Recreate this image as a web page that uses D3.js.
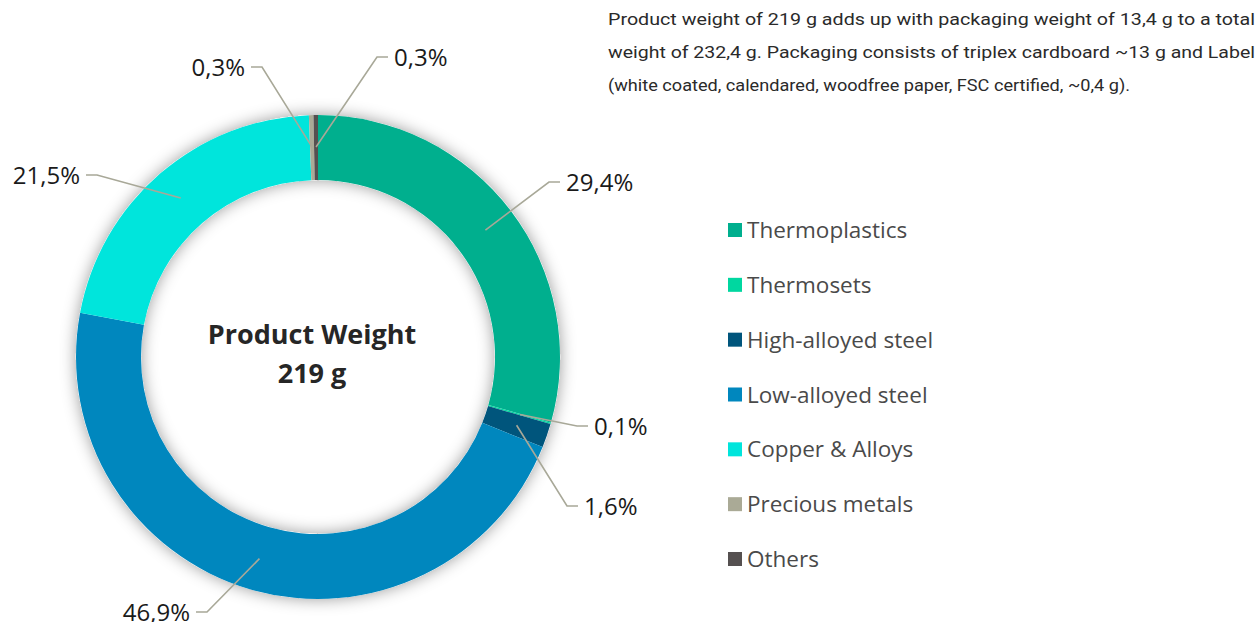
<!DOCTYPE html>
<html>
<head>
<meta charset="utf-8">
<script src="https://cdn.jsdelivr.net/npm/d3@7"></script>
<style>
  html, body { margin: 0; padding: 0; background: #fff; }
  svg { display: block; }
</style>
</head>
<body>
<div id="chart"></div>
<script>
// Material breakdown of product weight (clockwise from 12 o'clock)
const categories = ['Thermoplastics', 'Thermosets', 'High-alloyed steel', 'Low-alloyed steel',
                    'Copper & Alloys', 'Precious metals', 'Others'];
const shares = [29.4, 0.1, 1.6, 46.9, 21.5, 0.3, 0.3];
const shareLabels = ['29,4%', '0,1%', '1,6%', '46,9%', '21,5%', '0,3%', '0,3%'];
const colors = ['#00af8e', '#00d7a0', '#00557c', '#0087be', '#00e5dc', '#aaaa96', '#555050'];

const centerTitle = ['Product Weight', '219 g'];
const noteLines = [
    'Product weight of 219 g adds up with packaging weight of 13,4 g to a total',
    'weight of 232,4 g. Packaging consists of triplex cardboard ~13 g  and Label',
    '(white coated, calendared, woodfree  paper, FSC certified, ~0,4 g).'
];

// where each leader line bends, relative to the donut center
const labelElbows = [[231, -175], [259, 69], [249, 149], [-111, 255], [-221, -182], [-56, -290], [59, -300]];

const width = 1257, height = 622;
const cx = 318, cy = 357;
const outerR = 242, innerR = 177;

const svg = d3.select('#chart').append('svg')
    .attr('width', width)
    .attr('height', height);

const defs = svg.append('defs');
const glow = defs.append('filter')
    .attr('id', 'glow')
    .attr('x', '-30%').attr('y', '-30%')
    .attr('width', '160%').attr('height', '160%');
glow.append('feDropShadow')
    .attr('dx', 0).attr('dy', 0)
    .attr('stdDeviation', 8)
    .attr('flood-color', '#000')
    .attr('flood-opacity', 0.4);

const g = svg.append('g').attr('transform', `translate(${cx},${cy})`);

const pie = d3.pie().sort(null).value(d => d)(shares);
const arc = d3.arc().innerRadius(innerR).outerRadius(outerR);
const midArc = d3.arc().innerRadius(210).outerRadius(210);

// shadow ring underneath
g.append('path')
    .attr('d', d3.arc().innerRadius(innerR).outerRadius(outerR).startAngle(0).endAngle(2 * Math.PI)())
    .attr('fill', '#fff')
    .attr('filter', 'url(#glow)');

g.selectAll('path.slice')
    .data(pie)
    .enter().append('path')
    .attr('class', 'slice')
    .attr('d', arc)
    .attr('fill', (d, i) => colors[i]);

// leader lines + labels
const labels = g.append('g').attr('class', 'labels');
pie.forEach((d, i) => {
    const start = midArc.centroid(d);
    const elbow = labelElbows[i];
    const right = elbow[0] > 0;
    const endX = elbow[0] + (right ? 11 : -11);
    labels.append('polyline')
        .attr('points', [start, elbow, [endX, elbow[1]]].map(p => p.join(',')).join(' '))
        .attr('fill', 'none')
        .attr('stroke', '#a8a898')
        .attr('stroke-width', 1.6);
    labels.append('text')
        .attr('x', endX + (right ? 6 : -6))
        .attr('y', elbow[1])
        .attr('dy', '0.36em')
        .attr('text-anchor', right ? 'start' : 'end')
        .attr('font-family', 'Open Sans, sans-serif')
        .attr('font-size', 24)
        .attr('fill', '#1a1a1a')
        .text(shareLabels[i]);
});

// center caption
g.append('g').selectAll('text')
    .data(centerTitle)
    .enter().append('text')
    .attr('x', -6)
    .attr('y', (d, i) => -13 + i * 39)
    .attr('text-anchor', 'middle')
    .attr('font-family', 'Open Sans, sans-serif')
    .attr('font-weight', 700)
    .attr('font-size', 27)
    .attr('fill', '#262626')
    .text(d => d);

// legend
const legendY = d3.scalePoint().domain(categories).range([230, 559]);
const legend = svg.append('g').attr('class', 'legend');
const item = legend.selectAll('g')
    .data(categories)
    .enter().append('g')
    .attr('transform', d => `translate(728,${legendY(d)})`);
item.append('rect')
    .attr('x', 0).attr('y', -7)
    .attr('width', 14).attr('height', 14)
    .attr('fill', (d, i) => colors[i]);
item.append('text')
    .attr('x', 19)
    .attr('dy', '0.36em')
    .attr('font-family', 'Open Sans, sans-serif')
    .attr('font-size', 22.5)
    .attr('fill', '#4a4a4a')
    .text(d => d);

// note text, top right
const noteWidths = [647, 647, 522];
svg.append('g').selectAll('text')
    .data(noteLines)
    .enter().append('text')
    .attr('x', 608)
    .attr('y', (d, i) => 25 + i * 33)
    .attr('font-family', 'Liberation Sans Narrow, Roboto, sans-serif')
    .attr('font-size', 17)
    .attr('fill', '#2a2a2a')
    .attr('textLength', (d, i) => noteWidths[i])
    .attr('lengthAdjust', 'spacingAndGlyphs')
    .text(d => d);
</script>
</body>
</html>
